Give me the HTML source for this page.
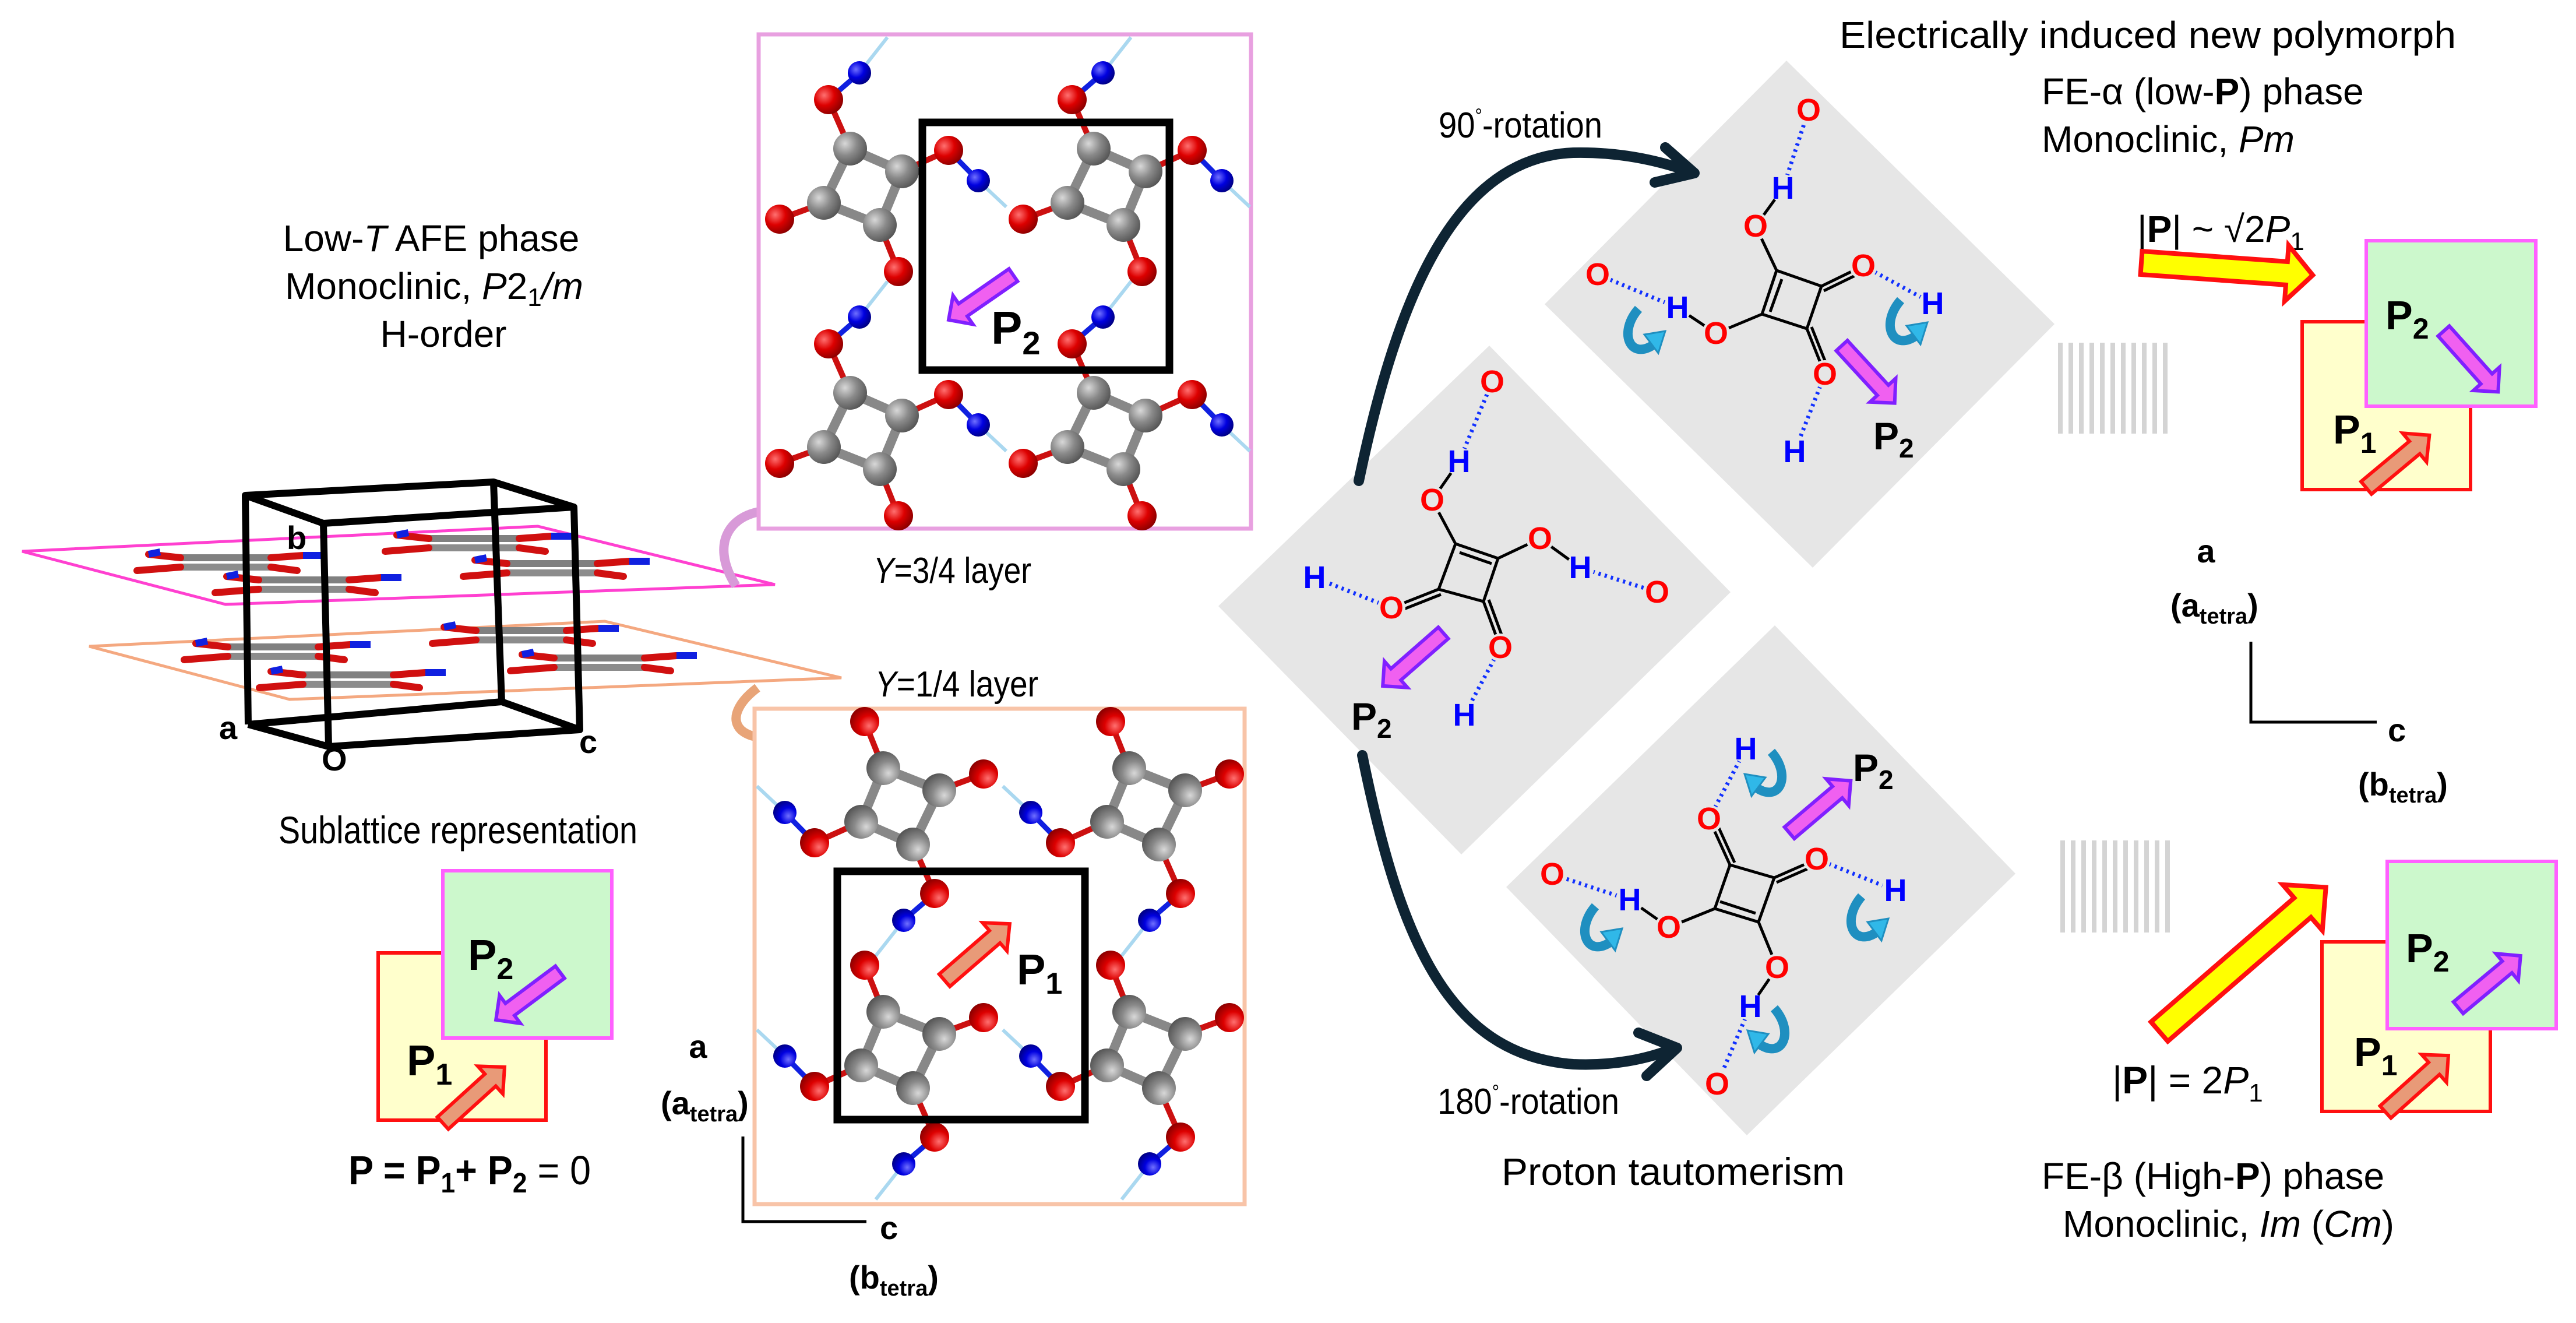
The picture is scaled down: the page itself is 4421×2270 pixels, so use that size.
<!DOCTYPE html>
<html><head><meta charset="utf-8"><style>
html,body{margin:0;padding:0;background:#fff}
svg{display:block}
text{font-family:"Liberation Sans",sans-serif}
</style></head><body>
<svg xmlns="http://www.w3.org/2000/svg" width="4421" height="2270" viewBox="0 0 4421 2270">
<defs>
<radialGradient id="gG" cx="0.35" cy="0.35" r="0.7"><stop offset="0" stop-color="#d8d8d8"/><stop offset="0.5" stop-color="#8a8a8a"/><stop offset="1" stop-color="#555"/></radialGradient>
<radialGradient id="gR" cx="0.35" cy="0.35" r="0.7"><stop offset="0" stop-color="#ff7070"/><stop offset="0.5" stop-color="#dd0000"/><stop offset="1" stop-color="#8a0000"/></radialGradient>
<radialGradient id="gB" cx="0.35" cy="0.35" r="0.7"><stop offset="0" stop-color="#7070ff"/><stop offset="0.5" stop-color="#0000e0"/><stop offset="1" stop-color="#000080"/></radialGradient>
<g id="molA">
 <line x1="-8" y1="-196" x2="40" y2="-257" stroke="#aad8f0" stroke-width="6"/>
 <line x1="196" y1="-11" x2="244" y2="34" stroke="#aad8f0" stroke-width="6"/>
 <g stroke="#888" stroke-width="16" stroke-linecap="round">
  <line x1="-24" y1="-66" x2="65" y2="-27"/><line x1="65" y1="-27" x2="27" y2="65"/>
  <line x1="27" y1="65" x2="-69" y2="27"/><line x1="-69" y1="27" x2="-24" y2="-66"/>
 </g>
 <g stroke="#cc1010" stroke-width="10">
  <line x1="-24" y1="-66" x2="-61" y2="-150"/><line x1="65" y1="-27" x2="145" y2="-63"/>
  <line x1="-69" y1="27" x2="-145" y2="55"/><line x1="27" y1="65" x2="59" y2="145"/>
 </g>
 <g stroke="#1020e0" stroke-width="9">
  <line x1="-61" y1="-150" x2="-8" y2="-196"/><line x1="145" y1="-63" x2="196" y2="-11"/>
 </g>
 <circle cx="-24" cy="-66" r="29" fill="url(#gG)"/><circle cx="65" cy="-27" r="29" fill="url(#gG)"/>
 <circle cx="-69" cy="27" r="29" fill="url(#gG)"/><circle cx="27" cy="65" r="29" fill="url(#gG)"/>
 <circle cx="-61" cy="-150" r="25" fill="url(#gR)"/><circle cx="145" cy="-63" r="25" fill="url(#gR)"/>
 <circle cx="-145" cy="55" r="25" fill="url(#gR)"/><circle cx="59" cy="145" r="25" fill="url(#gR)"/>
 <circle cx="-8" cy="-196" r="20" fill="url(#gB)"/><circle cx="196" cy="-11" r="20" fill="url(#gB)"/>
</g>
<g id="rod">
 <line x1="90" y1="-8" x2="245" y2="-8" stroke="#808080" stroke-width="12"/>
 <line x1="90" y1="8" x2="245" y2="8" stroke="#8c8c8c" stroke-width="12"/>
 <g stroke="#d01010" stroke-width="12" stroke-linecap="round">
  <line x1="35" y1="-14" x2="90" y2="-8"/><line x1="15" y1="14" x2="90" y2="8"/>
  <line x1="245" y1="-8" x2="300" y2="-12"/><line x1="245" y1="8" x2="290" y2="14"/>
 </g>
 <line x1="35" y1="-14" x2="55" y2="-18" stroke="#1020e0" stroke-width="12"/>
 <line x1="300" y1="-12" x2="335" y2="-12" stroke="#1020e0" stroke-width="12"/>
</g>
<g id="cy">
 <path d="M0,-40 C-35,0 -15,48 25,22" fill="none" stroke="#1f8fc0" stroke-width="16"/>
 <polygon points="10,4 46,-2 34,36" fill="#30b8e8" stroke="#1f8fc0" stroke-width="3"/>
</g>
</defs>

<!-- LEFT TITLE -->
<text x="740" y="431" font-size="64" text-anchor="middle">Low-<tspan font-style="italic">T</tspan> AFE phase</text>
<text x="745" y="513" font-size="64" text-anchor="middle">Monoclinic, <tspan font-style="italic">P</tspan>2<tspan font-size="44" dy="12">1</tspan><tspan dy="-12" font-style="italic">/m</tspan></text>
<text x="761" y="595" font-size="64" text-anchor="middle">H-order</text>

<!-- planes & cube -->
<polygon points="153,1109 1038,1066 1444,1163 497,1200" fill="none" stroke="#f4a880" stroke-width="5"/>
<use href="#rod" x="301" y="1118"/><use href="#rod" x="430" y="1166"/>
<use href="#rod" x="727" y="1090"/><use href="#rod" x="861" y="1137"/>
<polygon points="38,946 923,903 1330,1003 387,1037" fill="none" stroke="#ff40d0" stroke-width="5"/>
<use href="#rod" x="220" y="965"/><use href="#rod" x="354" y="1003"/>
<use href="#rod" x="646" y="932"/><use href="#rod" x="780" y="975"/>
<g stroke="#000" stroke-width="12" fill="none" stroke-linejoin="round">
 <polygon points="421,850 847,827 985,870 555,898"/>
 <polyline points="426,1243 861,1204 995,1252 564,1281 426,1243"/>
 <line x1="421" y1="850" x2="426" y2="1243"/><line x1="555" y1="898" x2="564" y2="1281"/>
 <line x1="985" y1="870" x2="995" y2="1252"/><line x1="847" y1="827" x2="861" y2="1204"/>
</g>
<g font-weight="bold" font-size="56">
<text x="492" y="942">b</text><text x="376" y="1268">a</text><text x="552" y="1322">O</text><text x="994" y="1292">c</text>
</g>
<!-- curved ribbons -->
<path d="M1263,1005 C1215,930 1255,872 1335,876" fill="none" stroke="#d89ad8" stroke-width="16"/>
<polygon points="1330,850 1370,877 1330,904" fill="#d89ad8" stroke="#b070b0" stroke-width="2"/>
<path d="M1300,1180 C1240,1225 1255,1272 1335,1266" fill="none" stroke="#e8a478" stroke-width="16"/>
<polygon points="1330,1240 1366,1265 1330,1292" fill="#e8a478" stroke="#c07850" stroke-width="2"/>

<text x="478" y="1447" font-size="66" textLength="616" lengthAdjust="spacingAndGlyphs">Sublattice representation</text>

<!-- left sublattice boxes -->
<rect x="649" y="1635" width="288" height="287" fill="#ffffcc" stroke="#ff1010" stroke-width="6"/>
<rect x="760" y="1494" width="290" height="287" fill="#ccf8cc" stroke="#ff60ff" stroke-width="6"/>
<text x="803" y="1664" font-size="74" font-weight="bold">P<tspan font-size="52" dy="16">2</tspan></text>
<path transform="translate(961,1668) rotate(143.3)" d="M0,-13 L107,-13 L107,-30 L137,0 L107,30 L107,13 L0,13 Z" fill="#f060f0" stroke="#8020ff" stroke-width="6"/>
<text x="698" y="1845" font-size="74" font-weight="bold">P<tspan font-size="52" dy="16">1</tspan></text>
<path transform="translate(760,1927) rotate(-42.2)" d="M0,-14 L110,-14 L110,-32 L143,0 L110,32 L110,14 L0,14 Z" fill="#e89a78" stroke="#ff1010" stroke-width="6"/>
<text x="598" y="2032" font-size="70" font-weight="bold" textLength="416" lengthAdjust="spacingAndGlyphs">P = P<tspan font-size="48" dy="14">1</tspan><tspan dy="-14">+ P</tspan><tspan font-size="48" dy="14">2</tspan><tspan dy="-14" font-weight="normal"> = 0</tspan></text>

<!-- left axis -->
<text x="1198" y="1815" font-size="56" font-weight="bold" text-anchor="middle">a</text>
<text x="1134" y="1912" font-size="56" font-weight="bold">(a<tspan font-size="38" dy="12">tetra</tspan><tspan dy="-12">)</tspan></text>
<polyline points="1275,1950 1275,2096 1487,2096" fill="none" stroke="#000" stroke-width="5"/>
<text x="1510" y="2126" font-size="56" font-weight="bold">c</text>
<text x="1457" y="2211" font-size="56" font-weight="bold">(b<tspan font-size="38" dy="12">tetra</tspan><tspan dy="-12">)</tspan></text>

<!-- TOP pink box -->
<rect x="1302" y="59" width="845" height="848" fill="#fff" stroke="#e8a0e0" stroke-width="7"/>
<use href="#molA" x="1483" y="321"/><use href="#molA" x="1901" y="321"/>
<use href="#molA" x="1483" y="740"/><use href="#molA" x="1901" y="740"/>
<rect x="1583" y="210" width="424" height="425" fill="none" stroke="#000" stroke-width="13"/>
<path transform="translate(1739,472) rotate(145.3)" d="M0,-13 L105,-13 L105,-30 L135,0 L105,30 L105,13 L0,13 Z" fill="#f060f0" stroke="#8020ff" stroke-width="6"/>
<text x="1701" y="590" font-size="80" font-weight="bold">P<tspan font-size="56" dy="18">2</tspan></text>
<text x="1499" y="1000" font-size="62" textLength="271" lengthAdjust="spacingAndGlyphs"><tspan font-style="italic">Y</tspan>=3/4 layer</text>

<!-- BOTTOM orange box -->
<text x="1502" y="1195" font-size="62" textLength="280" lengthAdjust="spacingAndGlyphs"><tspan font-style="italic">Y</tspan>=1/4 layer</text>
<rect x="1295" y="1216" width="841" height="850" fill="#fff" stroke="#f8c4a8" stroke-width="7"/>
<use href="#molA" transform="translate(1543,1383) rotate(180)"/><use href="#molA" transform="translate(1965,1383) rotate(180)"/>
<use href="#molA" transform="translate(1543,1801) rotate(180)"/><use href="#molA" transform="translate(1965,1801) rotate(180)"/>
<rect x="1437" y="1495" width="425" height="426" fill="none" stroke="#000" stroke-width="13"/>
<path transform="translate(1621,1682) rotate(-40.9)" d="M0,-14 L114,-14 L114,-32 L148,0 L114,32 L114,14 L0,14 Z" fill="#e89a78" stroke="#ff1010" stroke-width="6"/>
<text x="1745" y="1689" font-size="74" font-weight="bold">P<tspan font-size="52" dy="16">1</tspan></text>

<!-- CENTER diamonds -->
<polygon points="2091,1040 2556,593 2970,1016 2508,1466" fill="#e6e6e6"/>
<polygon points="2651,522 3066,104 3526,556 3111,974" fill="#e6e6e6"/>
<polygon points="2585,1522 3046,1073 3459,1499 2998,1948" fill="#e6e6e6"/>

<!-- center molecule -->
<g stroke="#000" stroke-width="5" fill="none">
 <polygon points="2498,933 2571,958 2546,1032 2469,1011"/>
 <line x1="2505" y1="948" x2="2560" y2="967"/>
 <line x1="2498" y1="933" x2="2458" y2="858"/><line x1="2571" y1="958" x2="2643" y2="924"/>
 <line x1="2469" y1="1011" x2="2388" y2="1043"/><line x1="2473" y1="1020" x2="2392" y2="1052"/>
 <line x1="2546" y1="1032" x2="2575" y2="1111"/><line x1="2555" y1="1029" x2="2584" y2="1108"/>
 <line x1="2458" y1="858" x2="2504" y2="792"/><line x1="2643" y1="924" x2="2712" y2="974"/>
</g>
<g stroke="#1030ff" stroke-width="7" stroke-dasharray="4 7" fill="none">
 <line x1="2504" y1="792" x2="2561" y2="655"/><line x1="2712" y1="974" x2="2844" y2="1016"/>
 <line x1="2388" y1="1043" x2="2256" y2="991"/><line x1="2575" y1="1111" x2="2513" y2="1227"/>
</g>
<!-- TR molecule -->
<g stroke="#000" stroke-width="5" fill="none">
 <polygon points="3049,464 3126,491 3101,564 3024,539"/>
 <line x1="3058" y1="479" x2="3038" y2="535"/>
 <line x1="3049" y1="464" x2="3013" y2="388"/><line x1="3126" y1="491" x2="3198" y2="456"/><line x1="3130" y1="499" x2="3202" y2="464"/>
 <line x1="3024" y1="539" x2="2945" y2="572"/><line x1="3101" y1="564" x2="3132" y2="642"/><line x1="3109" y1="561" x2="3140" y2="639"/>
 <line x1="3013" y1="388" x2="3060" y2="323"/><line x1="2945" y1="572" x2="2879" y2="528"/>
</g>
<g stroke="#1030ff" stroke-width="7" stroke-dasharray="4 7" fill="none">
 <line x1="3060" y1="323" x2="3104" y2="189"/><line x1="3198" y1="456" x2="3317" y2="521"/>
 <line x1="2879" y1="528" x2="2742" y2="471"/><line x1="3132" y1="642" x2="3080" y2="775"/>
</g>
<!-- BR molecule -->
<g stroke="#000" stroke-width="5" fill="none">
 <polygon points="2969,1484 3045,1506 3018,1582 2943,1559"/>
 <line x1="2952" y1="1547" x2="3013" y2="1567"/>
 <line x1="2969" y1="1484" x2="2933" y2="1405"/><line x1="2977" y1="1480" x2="2941" y2="1401"/>
 <line x1="3045" y1="1506" x2="3118" y2="1474"/><line x1="3049" y1="1514" x2="3122" y2="1482"/>
 <line x1="2943" y1="1559" x2="2864" y2="1591"/><line x1="3018" y1="1582" x2="3050" y2="1660"/>
 <line x1="2864" y1="1591" x2="2797" y2="1544"/><line x1="3050" y1="1660" x2="3004" y2="1727"/>
</g>
<g stroke="#1030ff" stroke-width="7" stroke-dasharray="4 7" fill="none">
 <line x1="2933" y1="1405" x2="2996" y2="1285"/><line x1="3118" y1="1474" x2="3253" y2="1528"/>
 <line x1="2797" y1="1544" x2="2664" y2="1500"/><line x1="3004" y1="1727" x2="2947" y2="1860"/>
</g>
<!-- label backgrounds -->
<g fill="#e6e6e6">
 <circle cx="2458" cy="858" r="24"/><circle cx="2504" cy="792" r="24"/><circle cx="2561" cy="655" r="24"/>
 <circle cx="2643" cy="924" r="24"/><circle cx="2712" cy="974" r="24"/><circle cx="2844" cy="1016" r="24"/>
 <circle cx="2388" cy="1043" r="24"/><circle cx="2256" cy="991" r="24"/><circle cx="2575" cy="1111" r="24"/><circle cx="2513" cy="1227" r="24"/>
 <circle cx="3013" cy="388" r="24"/><circle cx="3060" cy="323" r="24"/><circle cx="3104" cy="189" r="24"/>
 <circle cx="3198" cy="456" r="24"/><circle cx="3317" cy="521" r="24"/><circle cx="2945" cy="572" r="24"/>
 <circle cx="2879" cy="528" r="24"/><circle cx="2742" cy="471" r="24"/><circle cx="3132" cy="642" r="24"/><circle cx="3080" cy="775" r="24"/>
 <circle cx="2933" cy="1405" r="24"/><circle cx="2996" cy="1285" r="24"/><circle cx="3118" cy="1474" r="24"/>
 <circle cx="3253" cy="1528" r="24"/><circle cx="2864" cy="1591" r="24"/><circle cx="2797" cy="1544" r="24"/>
 <circle cx="2664" cy="1500" r="24"/><circle cx="3050" cy="1660" r="24"/><circle cx="3004" cy="1727" r="24"/><circle cx="2947" cy="1860" r="24"/>
</g>
<g font-size="54" font-weight="bold" text-anchor="middle" dominant-baseline="central">
 <g fill="#ff0000">
  <text x="2458" y="858">O</text><text x="2561" y="655">O</text><text x="2643" y="924">O</text><text x="2844" y="1016">O</text>
  <text x="2388" y="1043">O</text><text x="2575" y="1111">O</text>
  <text x="3013" y="388">O</text><text x="3104" y="189">O</text><text x="3198" y="456">O</text><text x="2945" y="572">O</text>
  <text x="2742" y="471">O</text><text x="3132" y="642">O</text>
  <text x="2933" y="1405">O</text><text x="3118" y="1474">O</text><text x="2864" y="1591">O</text><text x="2664" y="1500">O</text>
  <text x="3050" y="1660">O</text><text x="2947" y="1860">O</text>
 </g>
 <g fill="#0000ff">
  <text x="2504" y="792">H</text><text x="2712" y="974">H</text><text x="2256" y="991">H</text><text x="2513" y="1227">H</text>
  <text x="3060" y="323">H</text><text x="3317" y="521">H</text><text x="2879" y="528">H</text><text x="3080" y="775">H</text>
  <text x="2996" y="1285">H</text><text x="3253" y="1528">H</text><text x="2797" y="1544">H</text><text x="3004" y="1727">H</text>
 </g>
</g>
<!-- cyan arrows -->
<use href="#cy" x="2812" y="570"/><use href="#cy" x="3262" y="555"/>
<use href="#cy" transform="translate(3040,1330) scale(-1,1)"/><use href="#cy" x="2738" y="1595"/>
<use href="#cy" x="3195" y="1578"/><use href="#cy" transform="translate(3045,1770) scale(-1,1)"/>

<!-- center P2 arrows -->
<path transform="translate(2477,1086) rotate(138.8)" d="M0,-13 L108,-13 L108,-30 L138,0 L108,30 L108,13 L0,13 Z" fill="#f060f0" stroke="#8020ff" stroke-width="6"/>
<text x="2319" y="1252" font-size="66" font-weight="bold">P<tspan font-size="46" dy="14">2</tspan></text>
<path transform="translate(3161,593) rotate(47.4)" d="M0,-13 L104,-13 L104,-30 L134,0 L104,30 L104,13 L0,13 Z" fill="#f060f0" stroke="#8020ff" stroke-width="6"/>
<text x="3215" y="771" font-size="66" font-weight="bold">P<tspan font-size="46" dy="14">2</tspan></text>
<path transform="translate(3071,1429) rotate(-40.3)" d="M0,-13 L108,-13 L108,-30 L138,0 L108,30 L108,13 L0,13 Z" fill="#f060f0" stroke="#8020ff" stroke-width="6"/>
<text x="3180" y="1340" font-size="66" font-weight="bold">P<tspan font-size="46" dy="14">2</tspan></text>

<!-- big curved arrows -->
<g stroke="#0e2433" stroke-width="18" fill="none" stroke-linecap="round" stroke-linejoin="round">
 <path d="M2332,825 C2400,500 2500,270 2700,262 C2790,260 2860,280 2905,296"/>
 <polyline points="2858,253 2908,297 2840,313"/>
 <path d="M2338,1296 C2400,1600 2480,1810 2700,1826 C2790,1830 2850,1808 2875,1798"/>
 <polyline points="2812,1772 2878,1798 2826,1846"/>
</g>
<text x="2469" y="236" font-size="62" textLength="281" lengthAdjust="spacingAndGlyphs">90<tspan font-size="34" dy="-26">°</tspan><tspan dy="26">-rotation</tspan></text>
<text x="2467" y="1911" font-size="62" textLength="312" lengthAdjust="spacingAndGlyphs">180<tspan font-size="34" dy="-26">°</tspan><tspan dy="26">-rotation</tspan></text>
<text x="2577" y="2033" font-size="66" textLength="589" lengthAdjust="spacingAndGlyphs">Proton tautomerism</text>

<!-- RIGHT side -->
<text x="3157" y="82" font-size="64" textLength="1058" lengthAdjust="spacingAndGlyphs">Electrically induced new polymorph</text>
<text x="3504" y="179" font-size="64">FE-α (low-<tspan font-weight="bold">P</tspan>) phase</text>
<text x="3504" y="261" font-size="64">Monoclinic, <tspan font-style="italic">Pm</tspan></text>
<text x="3668" y="415" font-size="64">|<tspan font-weight="bold">P</tspan>| ~ √2<tspan font-style="italic">P</tspan><tspan font-size="44" dy="14">1</tspan></text>
<path transform="translate(3675,451) rotate(4.1)" d="M0,-20 L250,-20 L250,-48 L295,0 L250,48 L250,20 L0,20 Z" fill="#ffff00" stroke="#ff1010" stroke-width="8"/>
<g fill="#d4d4d4">
 <rect x="3532" y="588" width="8" height="156"/><rect x="3550" y="588" width="8" height="156"/><rect x="3568" y="588" width="8" height="156"/>
 <rect x="3586" y="588" width="8" height="156"/><rect x="3604" y="588" width="8" height="156"/><rect x="3622" y="588" width="8" height="156"/>
 <rect x="3640" y="588" width="8" height="156"/><rect x="3658" y="588" width="8" height="156"/><rect x="3676" y="588" width="8" height="156"/>
 <rect x="3694" y="588" width="8" height="156"/><rect x="3712" y="588" width="8" height="156"/>
 <rect x="3536" y="1442" width="8" height="158"/><rect x="3554" y="1442" width="8" height="158"/><rect x="3572" y="1442" width="8" height="158"/>
 <rect x="3590" y="1442" width="8" height="158"/><rect x="3608" y="1442" width="8" height="158"/><rect x="3626" y="1442" width="8" height="158"/>
 <rect x="3644" y="1442" width="8" height="158"/><rect x="3662" y="1442" width="8" height="158"/><rect x="3680" y="1442" width="8" height="158"/>
 <rect x="3698" y="1442" width="8" height="158"/><rect x="3716" y="1442" width="8" height="158"/>
</g>
<rect x="3951" y="552" width="289" height="288" fill="#ffffcc" stroke="#ff1010" stroke-width="6"/>
<rect x="4061" y="413" width="291" height="284" fill="#ccf8cc" stroke="#ff60ff" stroke-width="6"/>
<text x="4094" y="565" font-size="70" font-weight="bold">P<tspan font-size="50" dy="16">2</tspan></text>
<path transform="translate(4194,568) rotate(48.2)" d="M0,-13 L110,-13 L110,-30 L140,0 L110,30 L110,13 L0,13 Z" fill="#f060f0" stroke="#8020ff" stroke-width="6"/>
<text x="4004" y="761" font-size="70" font-weight="bold">P<tspan font-size="50" dy="16">1</tspan></text>
<path transform="translate(4061,837) rotate(-39.8)" d="M0,-14 L108,-14 L108,-32 L141,0 L108,32 L108,14 L0,14 Z" fill="#e89a78" stroke="#ff1010" stroke-width="6"/>

<text x="3786" y="965" font-size="56" font-weight="bold" text-anchor="middle">a</text>
<text x="3725" y="1058" font-size="56" font-weight="bold">(a<tspan font-size="38" dy="12">tetra</tspan><tspan dy="-12">)</tspan></text>
<polyline points="3863,1101 3863,1239 4079,1239" fill="none" stroke="#000" stroke-width="5"/>
<text x="4098" y="1272" font-size="56" font-weight="bold">c</text>
<text x="4047" y="1365" font-size="56" font-weight="bold">(b<tspan font-size="38" dy="12">tetra</tspan><tspan dy="-12">)</tspan></text>

<path transform="translate(3706,1770) rotate(-40.9)" d="M0,-22 L325,-22 L325,-52 L378,0 L325,52 L325,22 L0,22 Z" fill="#ffff00" stroke="#ff1010" stroke-width="8"/>
<rect x="3985" y="1616" width="289" height="291" fill="#ffffcc" stroke="#ff1010" stroke-width="6"/>
<rect x="4097" y="1478" width="290" height="287" fill="#ccf8cc" stroke="#ff60ff" stroke-width="6"/>
<text x="4129" y="1651" font-size="70" font-weight="bold">P<tspan font-size="50" dy="16">2</tspan></text>
<path transform="translate(4219,1729) rotate(-39.8)" d="M0,-13 L109,-13 L109,-30 L139,0 L109,30 L109,13 L0,13 Z" fill="#f060f0" stroke="#8020ff" stroke-width="6"/>
<text x="4040" y="1829" font-size="70" font-weight="bold">P<tspan font-size="50" dy="16">1</tspan></text>
<path transform="translate(4094,1908) rotate(-41.9)" d="M0,-14 L112,-14 L112,-32 L145,0 L112,32 L112,14 L0,14 Z" fill="#e89a78" stroke="#ff1010" stroke-width="6"/>
<text x="3625" y="1876" font-size="66">|<tspan font-weight="bold">P</tspan>| = 2<tspan font-style="italic">P</tspan><tspan font-size="44" dy="14">1</tspan></text>
<text x="3504" y="2040" font-size="64">FE-β (High-<tspan font-weight="bold">P</tspan>) phase</text>
<text x="3540" y="2122" font-size="64">Monoclinic, <tspan font-style="italic">Im</tspan> (<tspan font-style="italic">Cm</tspan>)</text>
</svg>
</body></html>
